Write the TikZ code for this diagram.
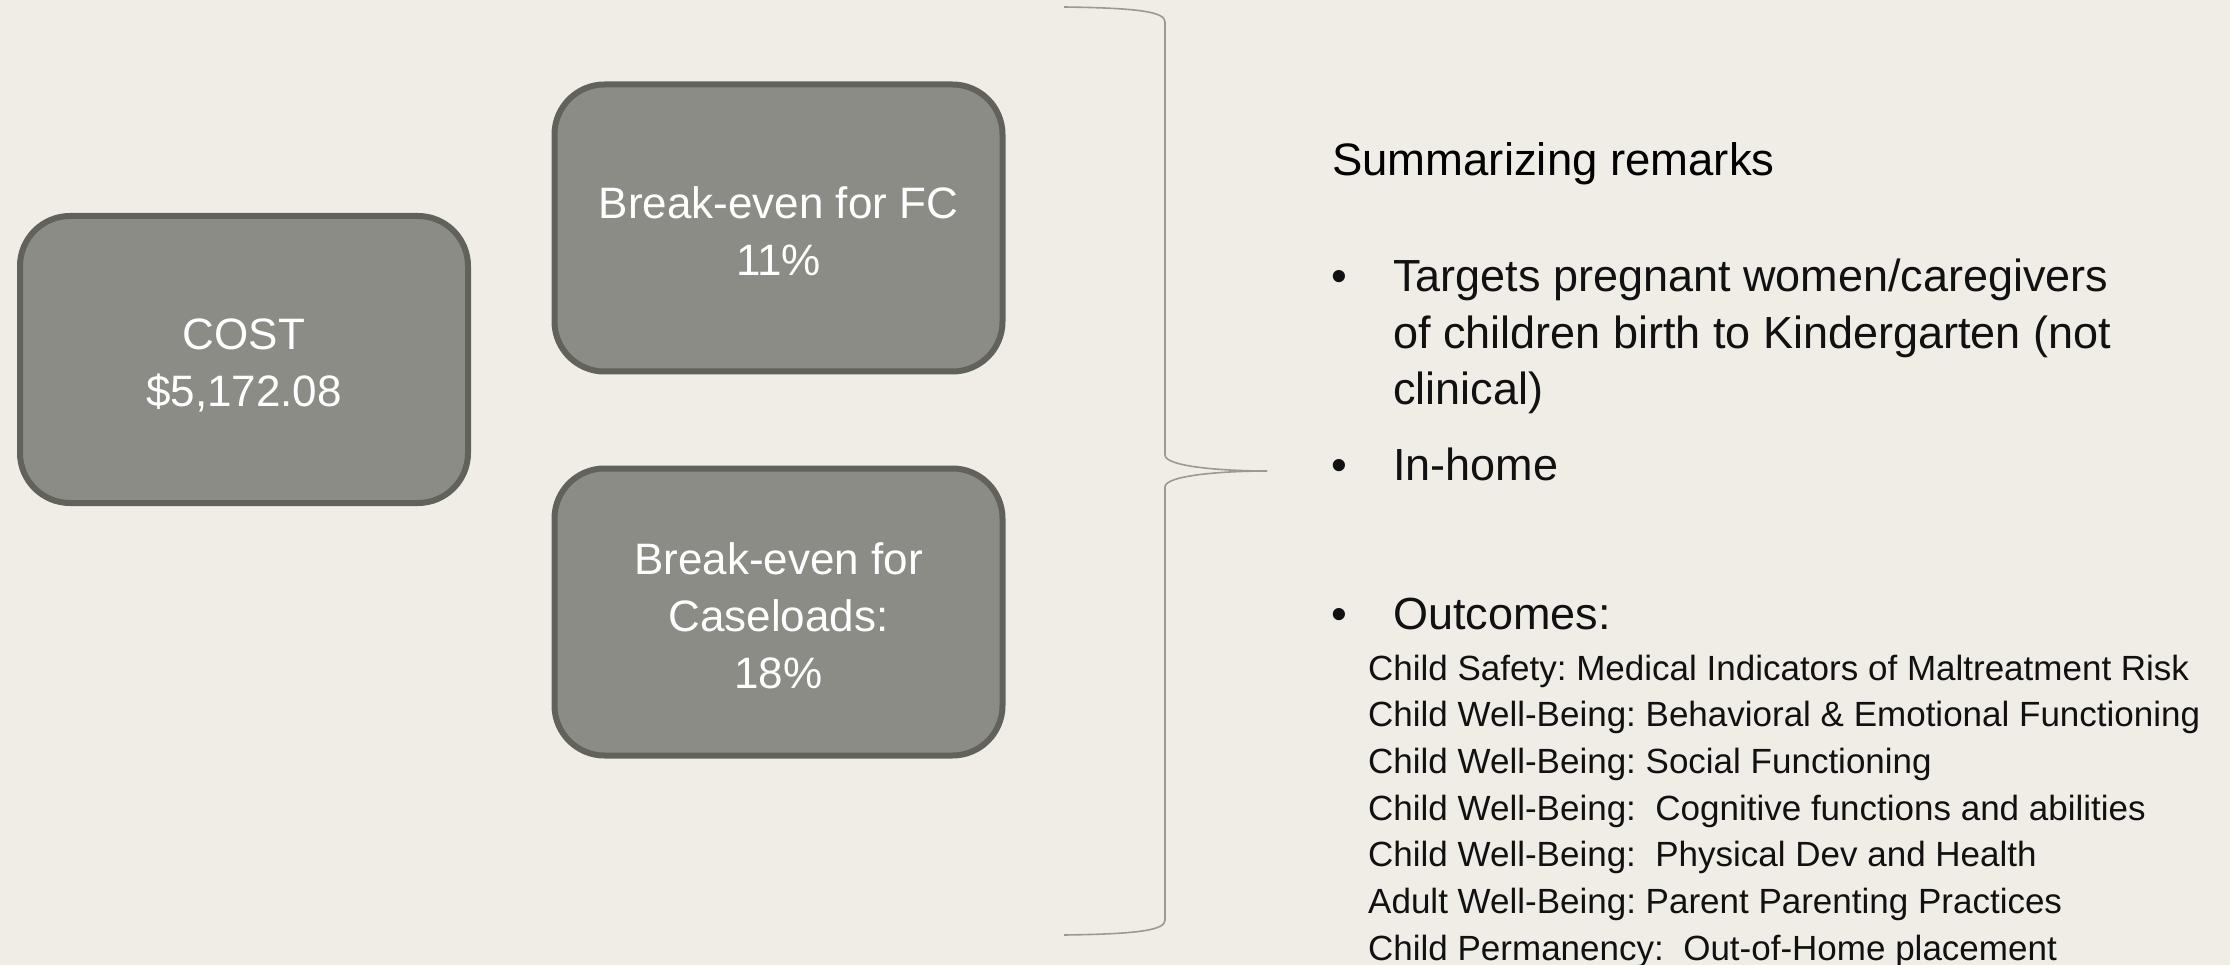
\documentclass[tikz,border=0pt]{standalone}
\usepackage{fontspec}
\setmainfont{Liberation Sans}
\frenchspacing
\definecolor{bgcol}{HTML}{EFEDE6}
\definecolor{boxfill}{HTML}{8C8C86}
\definecolor{boxline}{HTML}{62625C}
\definecolor{bracecol}{HTML}{9A9A94}
\definecolor{txt}{HTML}{111111}
\begin{document}
\begin{tikzpicture}[x=1pt,y=-1pt,
  card/.style={draw=boxline, line width=6pt, fill=boxfill, rounded corners=50pt,
    minimum width=448pt, minimum height=287pt, inner sep=0pt},
  cardtext/.style={text=white, align=center, font=\fontsize{44}{57}\selectfont, inner sep=0pt},
  bracepath/.style={draw=bracecol, line width=1.6pt},
  title/.style={anchor=base west, inner sep=0pt, text=black, font=\fontsize{45.5}{56}\selectfont},
  bul/.style={anchor=base west, inner sep=0pt, text=txt, font=\fontsize{45}{56}\selectfont},
  outc/.style={anchor=base west, inner sep=0pt, text=txt, font=\fontsize{35}{46}\selectfont}]
\fill[bgcol] (0,0) rectangle (2230,965);
\useasboundingbox (0,0) rectangle (2230,965);

\node[card] (cost) at (244,359.5) {};
\node[card] (fc) at (778.5,228) {};
\node[card] (case) at (778.5,612) {};
\node[cardtext] (costtxt) at ([yshift=-6pt]cost.center) {COST\\\$5,172.08};
\node[cardtext] (fctxt) at ([yshift=-3pt]fc.center) {Break-even for FC\\11\%};
\node[cardtext] (casetxt) at ([yshift=-4pt]case.center) {Break-even for\\Caseloads:\\18\%};

\coordinate (bt) at (1064,7);
\coordinate (bb) at (1064,935);
\coordinate (tip) at (1267,471);
\draw[bracepath] (bt) .. controls (1140,8) and (1165,12) .. (1165,22)
  -- (1165,455) .. controls (1165,467) and (1225,471) .. (tip);
\draw[bracepath] (tip) .. controls (1225,471) and (1165,475) .. (1165,487)
  -- (1165,920) .. controls (1165,930) and (1140,934) .. (bb);

\node[title] (ttl) at (1332,176) {Summarizing remarks};

\node[bul] (b1) at (1331,292) {•};
\node[bul] (t1a) at (1393,292) {Targets pregnant women/caregivers};
\node[bul] (t1b) at (1393,348.5) {of children birth to Kindergarten (not};
\node[bul] (t1c) at (1393,405) {clinical)};
\node[bul] (b2) at (1331,480) {•};
\node[bul] (t2) at (1393,480) {In-home};
\node[bul] (b3) at (1331,629) {•};
\node[bul] (t3) at (1393,629) {Outcomes:};

\node[outc] (o1) at (1368,680) {Child Safety: Medical Indicators of Maltreatment Risk};
\node[outc] (o2) at (1368,726.7) {Child Well-Being: Behavioral \& Emotional Functioning};
\node[outc] (o3) at (1368,773.3) {Child Well-Being: Social Functioning};
\node[outc] (o4) at (1368,820) {Child Well-Being:~ Cognitive functions and abilities};
\node[outc] (o5) at (1368,866.7) {Child Well-Being:~ Physical Dev and Health};
\node[outc] (o6) at (1368,913.3) {Adult Well-Being: Parent Parenting Practices};
\node[outc] (o7) at (1368,960) {Child Permanency:~ Out-of-Home placement};
\end{tikzpicture}
\end{document}
